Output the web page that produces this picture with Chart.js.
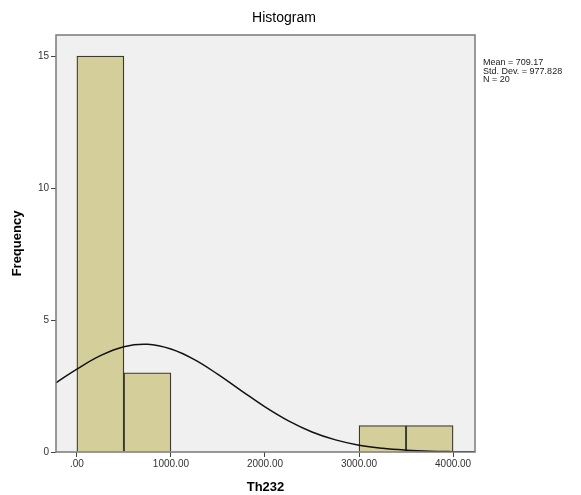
<!DOCTYPE html>
<html>
<head>
<meta charset="utf-8">
<script src="https://cdn.jsdelivr.net/npm/chart.js@4"></script>
<style>
  body { margin: 0; background: #fff; }
  #wrap { width: 581px; height: 495px; }
</style>
</head>
<body>
<div id="wrap"><canvas id="hist" width="581" height="495"></canvas></div>
<script>
// bins of width 500, centre value and count
const binCenters = [250, 750, 3250, 3750];
const binCounts = [15, 3, 1, 1];

// normal curve
const curveX = [-222, 0, 250, 500, 750, 1000, 1250, 1500, 1750, 2000, 2250, 2500, 2750, 3000, 3250, 3500, 3750, 4000, 4233];
const curveY = [2.62, 3.14, 3.65, 3.99, 4.08, 3.90, 3.50, 2.94, 2.32, 1.71, 1.18, 0.76, 0.46, 0.26, 0.14, 0.07, 0.03, 0.014, 0.006];

const xTicks = [0, 1000, 2000, 3000, 4000];
const yTicks = [0, 5, 10, 15];
const statLines = ["Mean = 709.17", "Std. Dev. = 977.828", "N = 20"];

const plotDecor = {
    id: "plotDecor",
    beforeDraw(chart) {
        const { ctx, chartArea: a } = chart;
        ctx.save();
        ctx.fillStyle = "#f0f0f0";
        ctx.fillRect(a.left, a.top, a.right - a.left, a.bottom - a.top);
        ctx.restore();
    },
    afterDraw(chart) {
        const { ctx, chartArea: a } = chart;
        ctx.save();
        ctx.strokeStyle = "#7a7a7a";
        ctx.lineWidth = 1.5;
        ctx.strokeRect(a.left, a.top, a.right - a.left, a.bottom - a.top);

        ctx.fillStyle = "#000";
        ctx.font = "14px Arial, 'Liberation Sans', sans-serif";
        ctx.textAlign = "center";
        ctx.textBaseline = "middle";
        ctx.fillText("Histogram", 284, 18);

        ctx.font = "9px Arial, 'Liberation Sans', sans-serif";
        ctx.fillStyle = "#222";
        ctx.textAlign = "left";
        statLines.forEach((t, i) => {
            ctx.fillText(t, a.right + 8, 63 + i * 8.5);
        });
        ctx.restore();
    }
};

new Chart(document.getElementById("hist"), {
    type: "bar",
    data: {
        datasets: [{
            type: "bar",
            data: binCenters.map((c, i) => ({ x: c, y: binCounts[i] })),
            backgroundColor: "#d4cf9a",
            borderColor: "#3b3a2c",
            borderWidth: 1.3,
            barPercentage: 1,
            categoryPercentage: 1,
            order: 2
        }, {
            type: "line",
            data: curveX.map((x, i) => ({ x: x, y: curveY[i] })),
            borderColor: "#111",
            borderWidth: 1.5,
            pointRadius: 0,
            tension: 0.4,
            fill: false,
            order: 1
        }]
    },
    options: {
        responsive: false,
        animation: false,
        layout: { padding: { left: 0, right: 106, top: 35, bottom: 0 } },
        plugins: {
            legend: { display: false },
            tooltip: { enabled: false }
        },
        scales: {
            x: {
                type: "linear",
                min: -222,
                max: 4233,
                offset: false,
                afterBuildTicks: s => { s.ticks = xTicks.map(v => ({ value: v })); },
                afterFit: s => { s.height = 43; },
                grid: { offset: false, drawOnChartArea: false, drawTicks: true, tickLength: 5, color: "#444" },
                border: { display: false },
                ticks: {
                    color: "#333",
                    font: { size: 10, family: "Arial, 'Liberation Sans', sans-serif" },
                    padding: 1,
                    maxRotation: 0,
                    autoSkip: false,
                    callback: v => v === 0 ? ".00" : v.toFixed(2)
                },
                title: {
                    display: true,
                    text: "Th232",
                    color: "#000",
                    font: { size: 13, weight: "bold", family: "Arial, 'Liberation Sans', sans-serif" },
                    padding: { top: 4, bottom: 0 }
                }
            },
            y: {
                min: 0,
                max: 15.8,
                afterBuildTicks: s => { s.ticks = yTicks.map(v => ({ value: v })); },
                afterFit: s => { s.width = 56; },
                grid: { drawOnChartArea: false, drawTicks: true, tickLength: 5, color: "#444" },
                border: { display: false },
                ticks: {
                    color: "#333",
                    font: { size: 10, family: "Arial, 'Liberation Sans', sans-serif" },
                    padding: 2
                },
                title: {
                    display: true,
                    text: "Frequency",
                    color: "#000",
                    font: { size: 13, weight: "bold", family: "Arial, 'Liberation Sans', sans-serif" },
                    padding: { top: 10, bottom: 0 }
                }
            }
        }
    },
    plugins: [plotDecor]
});
</script>
</body>
</html>
